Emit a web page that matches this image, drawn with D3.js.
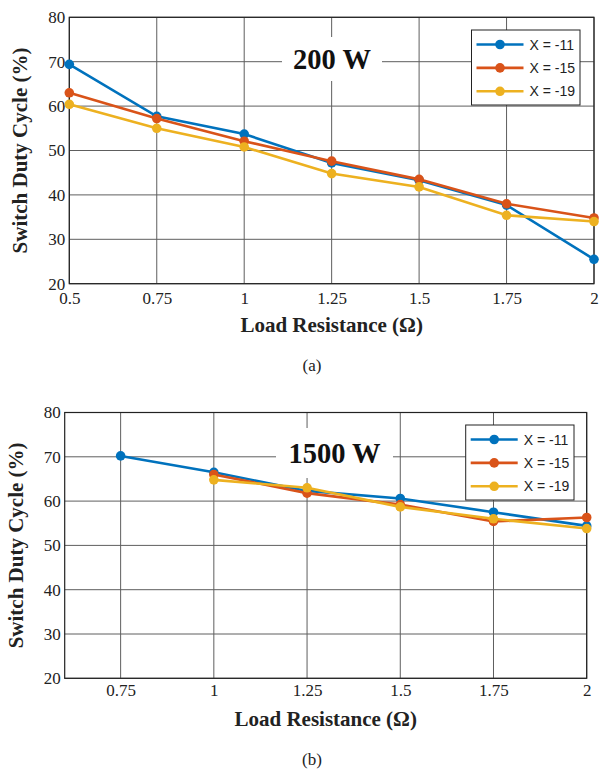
<!DOCTYPE html>
<html><head><meta charset="utf-8">
<script src="https://cdn.jsdelivr.net/npm/d3@7"></script>
<style>body{margin:0;background:#fff}svg{display:block}</style>
</head><body>
<svg id="c" width="604" height="771"></svg>
<script>
const seriesNames = ["X = -11", "X = -15", "X = -19"];
const colors = ["#0072BD", "#D95319", "#EDB120"];
const yTicks = [20, 30, 40, 50, 60, 70, 80];

// (a) 200 W
const xA = [0.5, 0.75, 1, 1.25, 1.5, 1.75, 2];
const xTicksA = [0.5, 0.75, 1, 1.25, 1.5, 1.75, 2];
const a_x11 = [69.4, 57.7, 53.7, 47.2, 43.3, 37.7, 25.5];
const a_x15 = [63.0, 57.2, 52.1, 47.6, 43.5, 38.0, 34.8];
const a_x19 = [60.4, 55.0, 50.8, 44.8, 41.8, 35.4, 34.0];

// (b) 1500 W
const xB11 = [0.75, 1, 1.25, 1.5, 1.75, 2];
const xB = [1, 1.25, 1.5, 1.75, 2];
const xTicksB = [0.75, 1, 1.25, 1.5, 1.75, 2];
const b_x11 = [70.2, 66.5, 62.3, 60.6, 57.5, 54.4];
const b_x15 = [66.0, 61.8, 59.2, 55.4, 56.3];
const b_x19 = [64.8, 63.0, 58.7, 56.0, 53.8];

const svg = d3.select("#c");

function panel(cfg) {
  const g = svg.append("g");
  const x = d3.scaleLinear().domain(cfg.xDomain).range([cfg.left, cfg.right]);
  const y = d3.scaleLinear().domain([20, 80]).range([cfg.bottom, cfg.top]);
  // grid
  g.append("g").selectAll("line.v").data(cfg.xTicks).join("line")
    .attr("x1", d => x(d)).attr("x2", d => x(d)).attr("y1", cfg.top).attr("y2", cfg.bottom)
    .attr("stroke", "#5e5e5e").attr("stroke-width", 1);
  g.append("g").selectAll("line.h").data(yTicks).join("line")
    .attr("y1", d => y(d)).attr("y2", d => y(d)).attr("x1", cfg.left).attr("x2", cfg.right)
    .attr("stroke", "#5e5e5e").attr("stroke-width", 1);
  // title box
  g.append("rect").attr("x", cfg.tb[0]).attr("y", cfg.tb[1]).attr("width", cfg.tb[2]).attr("height", cfg.tb[3]).attr("fill", "#fff");
  g.append("text").attr("x", cfg.tb[0] + cfg.tb[2] / 2).attr("y", cfg.tb[1] + cfg.tb[3] / 2 + 10)
    .attr("text-anchor", "middle").attr("font-family", "Liberation Serif, Times New Roman, serif")
    .attr("font-weight", "bold").attr("font-size", 28.5).attr("fill", "#111").text(cfg.title);
  // frame
  g.append("rect").attr("x", cfg.left).attr("y", cfg.top).attr("width", cfg.right - cfg.left).attr("height", cfg.bottom - cfg.top)
    .attr("fill", "none").attr("stroke", "#222").attr("stroke-width", 1.2);
  // axes
  const xa = g.append("g").attr("transform", `translate(0,${cfg.bottom})`)
    .call(d3.axisBottom(x).tickValues(cfg.xTicks).tickFormat(d => String(d)).tickSize(0).tickPadding(cfg.xPad));
  const ya = g.append("g").attr("transform", `translate(${cfg.left},0)`)
    .call(d3.axisLeft(y).tickValues(yTicks).tickSize(0).tickPadding(4));
  [xa, ya].forEach(a => {
    a.select(".domain").remove();
    a.selectAll("text").attr("font-family", "Liberation Serif, Times New Roman, serif").attr("font-size", 17).attr("fill", "#222");
  });
  // labels
  g.append("text").attr("x", (cfg.left + cfg.right) / 2).attr("y", cfg.bottom + 48)
    .attr("text-anchor", "middle").attr("font-family", "Liberation Serif, Times New Roman, serif")
    .attr("font-weight", "bold").attr("font-size", 21).attr("fill", "#222").text("Load Resistance (Ω)");
  g.append("text").attr("transform", `translate(${cfg.left - cfg.yl},${(cfg.top + cfg.bottom) / 2}) rotate(-90)`)
    .attr("text-anchor", "middle").attr("font-family", "Liberation Serif, Times New Roman, serif")
    .attr("font-weight", "bold").attr("font-size", 21).attr("fill", "#222").text("Switch Duty Cycle (%)");
  g.append("text").attr("x", 312).attr("y", cfg.bottom + 87)
    .attr("text-anchor", "middle").attr("font-family", "Liberation Serif, Times New Roman, serif")
    .attr("font-size", 17).attr("fill", "#222").text(cfg.sub);
  // series
  const line = d3.line().x(d => x(d[0])).y(d => y(d[1]));
  cfg.series.forEach((s, i) => {
    const pts = s.xs.map((v, k) => [v, s.ys[k]]);
    g.append("path").attr("d", line(pts)).attr("fill", "none").attr("stroke", colors[i]).attr("stroke-width", 2.6);
    g.append("g").selectAll("circle").data(pts).join("circle")
      .attr("cx", d => x(d[0])).attr("cy", d => y(d[1])).attr("r", 4.8).attr("fill", colors[i]);
  });
  // legend
  const L = cfg.legend;
  const lg = g.append("g");
  lg.append("rect").attr("x", L.x).attr("y", L.y).attr("width", L.w).attr("height", L.h)
    .attr("fill", "#fff").attr("stroke", "#222").attr("stroke-width", 1);
  seriesNames.forEach((n, i) => {
    const yy = L.y + 14.5 + i * 23.4;
    lg.append("line").attr("x1", L.x + 5).attr("x2", L.x + 52).attr("y1", yy).attr("y2", yy)
      .attr("stroke", colors[i]).attr("stroke-width", 2.6);
    lg.append("circle").attr("cx", L.x + 28.5).attr("cy", yy).attr("r", 4.8).attr("fill", colors[i]);
    lg.append("text").attr("x", L.x + 58).attr("y", yy + 5).attr("font-family", "Liberation Sans, Arial, sans-serif")
      .attr("font-size", 14).attr("fill", "#222").text(n);
  });
}

panel({
  left: 69.3, right: 594, top: 17.3, bottom: 283.7, xDomain: [0.5, 2], xTicks: xTicksA, xPad: 8, yl: 42,
  title: "200 W", tb: [282, 37, 100, 44], sub: "(a)",
  legend: { x: 471.5, y: 30, w: 108.5, h: 75 },
  series: [{ xs: xA, ys: a_x11 }, { xs: xA, ys: a_x15 }, { xs: xA, ys: a_x19 }]
});
panel({
  left: 64.7, right: 586.7, top: 412.5, bottom: 678.3, xDomain: [0.6, 2], xTicks: xTicksB, xPad: 6, yl: 42,
  title: "1500 W", tb: [276, 428, 117, 50], sub: "(b)",
  legend: { x: 465.7, y: 425, w: 108.3, h: 75 },
  series: [{ xs: xB11, ys: b_x11 }, { xs: xB, ys: b_x15 }, { xs: xB, ys: b_x19 }]
});
</script>
</body></html>
